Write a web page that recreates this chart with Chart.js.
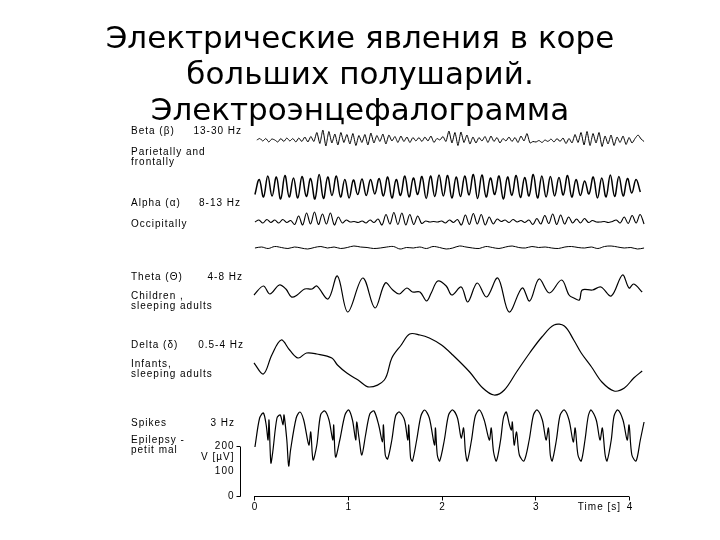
<!DOCTYPE html>
<html>
<head>
<meta charset="utf-8">
<script src="https://cdn.jsdelivr.net/npm/chart.js@4.4.0/dist/chart.umd.min.js"></script>
<style>
html, body { margin: 0; padding: 0; background: #fff; width: 720px; height: 540px; overflow: hidden; }
#wrap { position: absolute; left: 0; top: 0; width: 720px; height: 540px; }
#title { position: absolute; left: 0; top: 19px; width: 720px; text-align: center;
  font-family: "DejaVu Sans"; font-size: 31px; line-height: 36px; color: #000; }
</style>
</head>
<body>
<div id="wrap"><canvas id="eeg"></canvas></div>
<div id="title">Электрические явления в коре<br>больших полушарий.<br>Электроэнцефалограмма</div>
<script>
// axis ticks
var timeTicks = [0, 1, 2, 3, 4];
var scaleTicks = [0, 100, 200];

// labels on the left
var bandNames = ['Beta (β)', 'Alpha (α)', 'Theta (Θ)', 'Delta (δ)', 'Spikes'];
var bandFreqs = ['13-30 Hz', '8-13 Hz', '4-8 Hz', '0.5-4 Hz', '3 Hz'];
var bandSites = [['Parietally and', 'frontally'], ['Occipitally'], ['Children ,', 'sleeping adults'],
                 ['Infants,', 'sleeping adults'], ['Epilepsy -', 'petit mal']];

var betaVals = [0,6,-4,6,-8,4,0,-8,6,-6,8,-4,6,-8,8,-6,12,-8,14,-6,
  30,-14,40,-24,34,-12,24,-20,30,-10,
  22,-16,26,-22,18,-10,22,-20,28,-12,18,-6,24,-16,20,-4,14,-10,16,-6,12,-10,10,-4,10,-6,12,-4,16,-10,6,0,
  14,-6,36,-12,30,-22,32,-10,20,-16,
  12,-12,10,-4,14,-10,16,-6,10,-12,6,-4,12,-6,10,-10,16,-4,26,-12,
  -6,-8,-2,-10,0,-6,4,-8,6,-6,8,-14,6,
  -12,22,-10,30,-20,34,-22,26,-12,30,-26,16,-16,20,-22,12,-10,16,-18,10,
  -12,6,20,4,-6];

var alphaVals = [-30,30,-40,44,-36,40,-48,46,-40,36,
  -44,42,-38,34,-48,50,-46,40,-34,44,
  -40,30,-44,28,-30,32,-34,30,-28,34,
  -36,40,-44,30,-34,44,-40,36,-30,42,
  -46,44,-38,48,-36,46,-44,40,-38,44,
  -32,50,-46,48,-40,36,-30,44,-48,40,
  -34,46,-42,38,-36,50,-44,44,-40,42,
  -36,38,-32,46,-40,30,-34,24,-28,40,
  -44,36,-40,48,-38,42,-36,34,
  -24,30,-20];

var occipVals = [0,8,-4,10,-2,8,-4,10,-2,6,
  -10,24,-12,36,-8,40,-10,32,-8,36,-12,20,-4,
  8,0,2,-2,
  4,-4,8,-2,12,
  -12,30,-8,38,-10,36,-12,30,-10,24,
  -6,4,0,2,0,
  4,-4,8,-2,10,
  -12,28,-10,34,-8,30,-12,20,
  -8,12,2,8,-2,10,0,6,-2,8,
  -10,14,-8,26,-6,32,-10,28,-8,20,-4,
  12,-4,14,-2,6,0,0,2,-2,2,
  8,-4,20,-6,26,-4,30,-8];

var flatVals = [0,4,-2,6,2,-2,4,0,-4,2,6,0,4,-2,2,8,4,2,-2,0,4,6,-4,2,0,4,-2,6,2,-4,
  0,8,4,0,-2,6,2,-2,4,8,2,0,6,2,4,0,-2,4,6,2,0,4,-2,6,8,4,0,2,-4,0];

// slower traces with their own times (s)
var thetaTimes = [0,0.1,0.17,0.27,0.34,0.4,0.46,0.54,0.62,0.67,0.79,0.89,1,1.16,1.29,1.4,1.48,1.55,1.63,1.69,
  1.77,1.84,1.89,1.96,2.05,2.11,2.21,2.28,2.38,2.48,2.6,2.72,2.86,2.94,3.04,3.15,3.28,3.36,3.41,3.47,
  3.5,3.61,3.7,3.81,3.93,4,4.05,4.14];
var thetaVals = [-12,24,-8,28,12,-20,-12,12,12,24,-28,64,-80,56,-64,36,8,-8,16,0,
  0,-36,-4,44,24,-12,20,-40,36,-20,56,-80,16,-36,52,-4,48,-12,-24,-32,
  8,8,20,-16,68,16,32,0];

var deltaTimes = [0,0.1,0.19,0.29,0.38,0.47,0.56,0.67,0.83,0.89,0.99,1.11,1.23,1.39,1.47,1.57,1.66,1.77,1.87,2,
  2.12,2.3,2.44,2.56,2.67,2.8,2.94,3.07,3.2,3.31,3.41,3.49,3.6,3.71,3.84,3.95,4.05,4.14];
var deltaVals = [-12,-56,20,80,40,8,28,24,8,-20,-52,-80,-108,-80,8,60,104,100,88,60,
  20,-48,-112,-140,-120,-48,28,92,140,136,80,28,-28,-88,-124,-112,-72,-44];

var spikeTimes = [0.01,0.06,0.1,0.13,0.15,0.16,0.18,0.2,0.245,0.28,0.31,0.32,0.35,0.37,0.39,0.45,0.49,0.53,0.585,0.605,
  0.63,0.67,0.71,0.755,0.8,0.84,0.85,0.87,0.915,0.97,1.01,1.05,1.085,1.095,1.12,1.15,1.19,1.235,1.28,1.33,
  1.37,1.38,1.4,1.425,1.47,1.51,1.55,1.605,1.64,1.65,1.67,1.69,1.735,1.78,1.82,1.87,1.925,1.935,1.955,1.98,
  2.03,2.075,2.12,2.17,2.21,2.235,2.255,2.275,2.32,2.36,2.405,2.455,2.51,2.53,2.555,2.585,2.63,2.66,2.69,2.725,
  2.745,2.755,2.775,2.8,2.83,2.88,2.935,2.98,3.02,3.075,3.115,3.14,3.16,3.18,3.225,3.265,3.31,3.36,3.405,3.425,
  3.455,3.49,3.53,3.565,3.595,3.65,3.69,3.715,3.745,3.765,3.81,3.84,3.88,3.935,3.98,4,4.03,4.075,4.12,4.16];
var spikeVals = [-40,76,96,48,-12,68,-104,-60,76,88,48,88,-12,-116,-52,76,100,68,-32,20,
  -92,-32,88,104,68,-12,48,-80,-12,88,108,68,-12,60,-4,-72,8,92,104,48,
  -20,48,-72,-88,-12,84,100,68,-12,48,-84,-96,-12,84,108,76,-32,36,-72,-96,
  -12,88,108,76,-4,36,-60,-96,-12,84,108,68,-12,36,-60,-96,-12,76,100,48,
  28,60,-32,20,-72,-96,-12,88,108,68,-12,36,-72,-96,-12,88,108,68,-20,36,
  -72,-96,-12,84,108,68,-12,36,-72,-96,-12,84,108,68,-12,48,-72,-96,-12,60];

function even(vals, t0, t1, base) {
  var step = (t1 - t0) / (vals.length - 1);
  return vals.map(function(v, i) { return { x: t0 + i * step, y: base + v }; });
}
function paired(times, vals, base) {
  return times.map(function(t, i) { return { x: t, y: base + vals[i] }; });
}

function trace(data, width, tension) {
  return {
    data: data,
    borderColor: '#000',
    borderWidth: width,
    pointRadius: 0,
    fill: false,
    tension: tension,
    clip: false
  };
}

var decor = {
  id: 'decor',
  afterDraw: function(chart) {
    var c = chart.ctx, xs = chart.scales.x, ys = chart.scales.y;
    var lastT = timeTicks[timeTicks.length - 1];
    c.save();
    c.strokeStyle = '#000';
    c.fillStyle = '#000';
    c.lineWidth = 1;
    c.font = '10px "Liberation Sans"';
    c.letterSpacing = '1px';
    c.textBaseline = 'middle';

    // time axis, drawn only up to 4 s
    var ay = Math.round(ys.getPixelForValue(0)) - 0.5;
    c.beginPath();
    c.moveTo(xs.getPixelForValue(timeTicks[0]), ay);
    c.lineTo(xs.getPixelForValue(lastT), ay);
    timeTicks.forEach(function(t) {
      var px = Math.round(xs.getPixelForValue(t)) + 0.5;
      c.moveTo(px, ay);
      c.lineTo(px, ay + 4);
    });
    c.stroke();
    c.textAlign = 'center';
    timeTicks.forEach(function(t) {
      c.fillText(String(t), xs.getPixelForValue(t) + 1, ay + 11);
    });
    c.textAlign = 'right';
    c.fillText('Time [s]', xs.getPixelForValue(lastT) - 8, ay + 11);

    // µV scale bar
    var bx = Math.round(xs.getPixelForValue(0)) - 13.5;
    c.beginPath();
    c.moveTo(bx, ys.getPixelForValue(scaleTicks[2]));
    c.lineTo(bx, ay);
    [scaleTicks[0], scaleTicks[2]].forEach(function(v) {
      var py = Math.round(ys.getPixelForValue(v)) - 0.5;
      c.moveTo(bx - 4, py);
      c.lineTo(bx, py);
    });
    c.stroke();
    c.textAlign = 'right';
    scaleTicks.forEach(function(v) {
      c.fillText(String(v), bx - 6, ys.getPixelForValue(v) - 1);
    });
    c.fillText('V [µV]', bx - 6, ys.getPixelForValue(scaleTicks[2]) + 10);

    // band labels
    var nameY = [131, 203, 277, 345, 423];
    var siteY = [152, 224, 296, 364, 440];
    var freqR = [242, 241, 243, 244, 235];
    bandNames.forEach(function(n, i) {
      c.textAlign = 'left';
      c.fillText(n, 131, nameY[i]);
      bandSites[i].forEach(function(s, k) {
        c.fillText(s, 131, siteY[i] + k * 10);
      });
      c.textAlign = 'right';
      c.fillText(bandFreqs[i], freqR[i], nameY[i]);
    });
    c.restore();
  }
};

new Chart(document.getElementById('eeg').getContext('2d'), {
  type: 'line',
  data: {
    datasets: [
      trace(even(betaVals, 0.03, 4.16, 1428), 1, 0.2),
      trace(even(alphaVals, 0.01, 4.12, 1240), 1.5, 0.4),
      trace(even(occipVals, 0.01, 4.16, 1100), 1.1, 0.35),
      trace(even(flatVals, 0.01, 4.16, 996), 1, 0.35),
      trace(paired(thetaTimes, thetaVals, 820), 1.2, 0.35),
      trace(paired(deltaTimes, deltaVals, 548), 1.2, 0.35),
      trace(paired(spikeTimes, spikeVals, 240), 1.2, 0.3)
    ]
  },
  options: {
    responsive: true,
    maintainAspectRatio: false,
    animation: false,
    layout: { padding: { left: 254, right: 75, top: 122, bottom: 43 } },
    plugins: { legend: { display: false }, tooltip: { enabled: false }, title: { display: false } },
    scales: {
      x: { type: 'linear', min: 0, max: 4.17, display: false },
      y: { min: 0, max: 1500, display: false }
    }
  },
  plugins: [decor]
});
</script>
</body>
</html>
